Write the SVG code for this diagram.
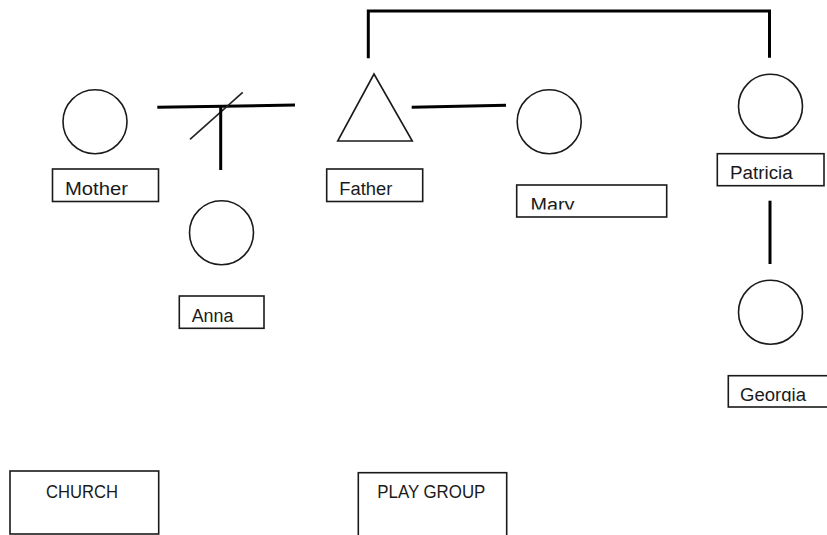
<svg xmlns="http://www.w3.org/2000/svg" width="827" height="535" viewBox="0 0 827 535">
<style>
.shape{fill:none;stroke:#1a1a1a;stroke-width:1.6}
.box{fill:#fff;stroke:#1a1a1a;stroke-width:1.6}
.lbl{font-family:"Liberation Sans",Arial,sans-serif;font-size:18px;fill:#1a1a1a}
.conn{fill:none;stroke:#000;stroke-width:3}
.slash{fill:none;stroke:#222;stroke-width:1.6}
</style>
<defs>
<clipPath id="clipMary"><rect x="517" y="186" width="149" height="23.5"/></clipPath>
<clipPath id="clipGeorgia"><rect x="729" y="376" width="98" height="25.7"/></clipPath>
</defs>
<rect width="827" height="535" fill="#fff"/>
<g id="connectors">
<polyline class="conn" points="368.3,58.3 368.3,11 769.5,11 769.5,57.7"/>
<line class="conn" x1="157.3" y1="107.3" x2="295" y2="105"/>
<line class="slash" x1="190" y1="139.3" x2="242.7" y2="92.3"/>
<line class="conn" x1="220.7" y1="106" x2="220.7" y2="170"/>
<line class="conn" x1="411.7" y1="107.3" x2="506" y2="105.3"/>
<line class="conn" x1="770" y1="200.7" x2="770" y2="264"/>
</g>
<g id="mother">
<circle class="shape" cx="95" cy="121.7" r="32"/>
<rect class="box" x="52.5" y="169" width="106" height="32.5"/>
<text class="lbl" x="65" y="195" textLength="63" lengthAdjust="spacingAndGlyphs">Mother</text>
</g>
<g id="anna">
<circle class="shape" cx="221.5" cy="232.8" r="32"/>
<rect class="box" x="179.3" y="296" width="84.7" height="32.3"/>
<text class="lbl" x="191.7" y="321.7" textLength="41.7" lengthAdjust="spacingAndGlyphs">Anna</text>
</g>
<g id="father">
<polygon class="shape" points="374,74 337.7,141 412.3,141"/>
<rect class="box" x="326.7" y="169" width="96" height="32.5"/>
<text class="lbl" x="339.3" y="195" textLength="53" lengthAdjust="spacingAndGlyphs">Father</text>
</g>
<g id="mary">
<circle class="shape" cx="549.2" cy="121.7" r="32"/>
<rect class="box" x="516.7" y="185" width="150" height="32"/>
<text class="lbl" x="530.5" y="211.2" clip-path="url(#clipMary)" textLength="44" lengthAdjust="spacingAndGlyphs">Mary</text>
</g>
<g id="patricia">
<circle class="shape" cx="770.5" cy="106.2" r="32"/>
<rect class="box" x="717.3" y="153.7" width="106.7" height="32"/>
<text class="lbl" x="730" y="179.3" textLength="62.7" lengthAdjust="spacingAndGlyphs">Patricia</text>
</g>
<g id="georgia">
<circle class="shape" cx="770.5" cy="312.2" r="32"/>
<rect class="box" x="728.3" y="375.7" width="110" height="31.3"/>
<text class="lbl" x="740" y="401.2" clip-path="url(#clipGeorgia)" textLength="66" lengthAdjust="spacingAndGlyphs">Georgia</text>
</g>
<g id="church">
<rect class="box" x="10" y="471" width="148.7" height="63"/>
<text class="lbl" x="46" y="498.3" textLength="72" lengthAdjust="spacingAndGlyphs">CHURCH</text>
</g>
<g id="playgroup">
<rect class="box" x="358.3" y="472.7" width="148.4" height="70"/>
<text class="lbl" x="377.3" y="498.3" textLength="108" lengthAdjust="spacingAndGlyphs">PLAY GROUP</text>
</g>
</svg>
